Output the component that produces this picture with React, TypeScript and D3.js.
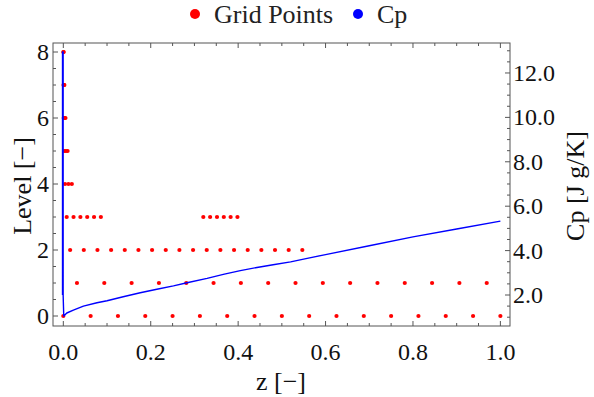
import React from "react";
import * as d3 from "d3";

// ---- data ----
const levelValues = [0, 1, 2, 3, 4, 5, 6, 7, 8];
const gridZLevel0 = [0, 0.0625, 0.125, 0.1875, 0.25, 0.3125, 0.375, 0.4375, 0.5, 0.5625, 0.625, 0.6875, 0.75, 0.8125, 0.875, 0.9375, 1.0];
const gridZLevel1 = [0.03125, 0.09375, 0.15625, 0.21875, 0.28125, 0.34375, 0.40625, 0.46875, 0.53125, 0.59375, 0.65625, 0.71875, 0.78125, 0.84375, 0.90625, 0.96875];
const gridZLevel2 = [0.015625, 0.046875, 0.078125, 0.109375, 0.140625, 0.171875, 0.203125, 0.234375, 0.265625, 0.296875, 0.328125, 0.359375, 0.390625, 0.421875, 0.453125, 0.484375, 0.515625, 0.546875];
const gridZLevel3 = [0.0078, 0.0234, 0.0391, 0.0547, 0.0703, 0.0859, 0.3203, 0.3359, 0.3516, 0.3672, 0.3828, 0.3984];
const gridZLevel4 = [0.0039, 0.0117, 0.0195];
const gridZLevel5 = [0.002, 0.0059, 0.0098];
const gridZLevel6 = [0.001, 0.0029, 0.0049];
const gridZLevel7 = [0.0005, 0.0015, 0.0024];
const gridZLevel8 = [0.0002, 0.0007];
const gridZByLevel = [gridZLevel0, gridZLevel1, gridZLevel2, gridZLevel3, gridZLevel4, gridZLevel5, gridZLevel6, gridZLevel7, gridZLevel8];

const cpZ = [-0.0018, -0.0018, -0.0004, -0.0004, 0.001, 0.008, 0.023, 0.046, 0.077, 0.1, 0.137, 0.176, 0.214, 0.252, 0.283, 0.329, 0.366, 0.405, 0.443, 0.48, 0.52, 0.558, 0.6, 0.7, 0.8, 0.9, 1.0];
const cpValues = [2.0, 12.95, 12.95, 2.0, 1.05, 1.19, 1.32, 1.5, 1.65, 1.74, 1.92, 2.1, 2.26, 2.41, 2.55, 2.75, 2.93, 3.1, 3.24, 3.36, 3.49, 3.65, 3.82, 4.22, 4.62, 4.97, 5.33];

const xTicks = [0, 0.2, 0.4, 0.6, 0.8, 1.0];
const levelTicks = [0, 2, 4, 6, 8];
const cpTicks = [2, 4, 6, 8, 10, 12];

const W = 594, H = 397;
const L = 53, R = 510, T = 43, B = 326;
const FONT = "'Liberation Serif', 'DejaVu Serif', serif";
const FRAME = "#555";

export default function App() {
  const x = d3.scaleLinear().domain([-0.0236, 1.022]).range([L, R]);
  const y = d3.scaleLinear().domain([-0.303, 8.273]).range([B, T]);
  const yc = d3.scaleLinear().domain([0.604, 13.35]).range([B, T]);

  const line = d3.line<number>().x((_, i) => x(cpZ[i])).y((d) => yc(d));

  const majLen = 5, minLen = 3;
  const xMinor = d3.range(0, 1.0001, 0.05).filter((v) => !xTicks.some((t) => Math.abs(t - v) < 1e-6));
  const yMinor = d3.range(0, 8.0001, 0.5).filter((v) => !levelTicks.some((t) => Math.abs(t - v) < 1e-6));
  const cMinor = d3.range(1, 13.0001, 0.5).filter((v) => !cpTicks.some((t) => Math.abs(t - v) < 1e-6));

  const tickLines: React.ReactNode[] = [];
  xTicks.forEach((t, i) => {
    tickLines.push(<line key={"xb" + i} x1={x(t)} x2={x(t)} y1={B} y2={B - majLen} />);
    tickLines.push(<line key={"xt" + i} x1={x(t)} x2={x(t)} y1={T} y2={T + majLen} />);
  });
  xMinor.forEach((t, i) => {
    tickLines.push(<line key={"xbm" + i} x1={x(t)} x2={x(t)} y1={B} y2={B - minLen} />);
    tickLines.push(<line key={"xtm" + i} x1={x(t)} x2={x(t)} y1={T} y2={T + minLen} />);
  });
  levelTicks.forEach((t, i) => tickLines.push(<line key={"yl" + i} x1={L} x2={L + majLen} y1={y(t)} y2={y(t)} />));
  yMinor.forEach((t, i) => tickLines.push(<line key={"ylm" + i} x1={L} x2={L + minLen} y1={y(t)} y2={y(t)} />));
  cpTicks.forEach((t, i) => tickLines.push(<line key={"yr" + i} x1={R} x2={R - majLen} y1={yc(t)} y2={yc(t)} />));
  cMinor.forEach((t, i) => tickLines.push(<line key={"yrm" + i} x1={R} x2={R - minLen} y1={yc(t)} y2={yc(t)} />));

  return (
    <svg width={W} height={H} style={{ position: "absolute", left: 0, top: 0, background: "#fff" }} fontFamily={FONT}>
      {/* legend */}
      <circle cx={195} cy={14} r={5} fill="#ff0000" />
      <text x={214} y={23} fontSize={26} fill="#222">Grid Points</text>
      <circle cx={358} cy={14} r={5} fill="#0000ff" />
      <text x={377} y={23} fontSize={26} fill="#222">Cp</text>

      {/* grid points */}
      <g fill="#ff0000">
        {gridZByLevel.map((zs, li) =>
          zs.map((z, j) => <circle key={li + "-" + j} cx={x(z)} cy={y(levelValues[li])} r={2.1} />)
        )}
      </g>

      {/* Cp line */}
      <path d={line(cpValues) || ""} fill="none" stroke="#0000ff" strokeWidth={1.4} strokeLinejoin="round" />

      {/* frame */}
      <g stroke={FRAME} strokeWidth={1} fill="none">
        <rect x={L} y={T} width={R - L} height={B - T} />
        {tickLines}
      </g>

      {/* tick labels */}
      <g fontSize={24} fill="#111">
        {xTicks.map((t, i) => (
          <text key={"xl" + i} x={x(t)} y={360} textAnchor="middle">{t.toFixed(1)}</text>
        ))}
        {levelTicks.map((t, i) => (
          <text key={"ll" + i} x={49} y={y(t) + 8} textAnchor="end">{t}</text>
        ))}
        {cpTicks.map((t, i) => (
          <text key={"cl" + i} x={513} y={yc(t) + 8} textAnchor="start">{t.toFixed(1)}</text>
        ))}
      </g>

      {/* axis labels */}
      <text x={281} y={390} fontSize={26} textAnchor="middle" fill="#111">z [−]</text>
      <text transform={`translate(31,186) rotate(-90)`} fontSize={26} textAnchor="middle" fill="#111">Level [−]</text>
      <text transform={`translate(584,186) rotate(-90)`} fontSize={26} textAnchor="middle" fill="#111">Cp [J g/K]</text>
    </svg>
  );
}
